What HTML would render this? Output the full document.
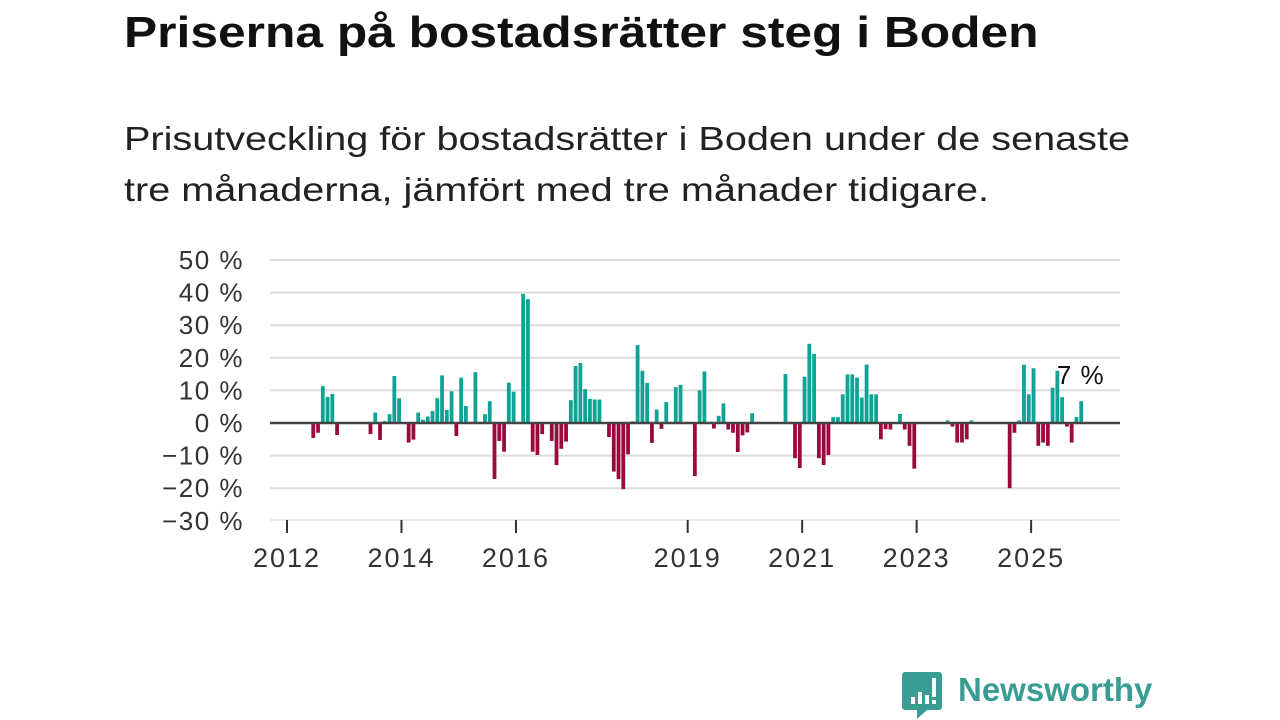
<!DOCTYPE html>
<html><head><meta charset="utf-8"><style>
body{margin:0;width:1280px;height:720px;background:#fff;overflow:hidden;font-family:"Liberation Sans",sans-serif;position:relative}
h1{position:absolute;left:124px;top:8px;margin:0;font-size:44px;font-weight:bold;color:#111;transform:scaleX(1.13);transform-origin:left top;white-space:nowrap}
p.sub{position:absolute;left:124px;top:113px;margin:0;font-size:33px;line-height:51px;color:#222;white-space:nowrap;transform:scaleX(1.2);transform-origin:left top}
svg{position:absolute;left:0;top:0}
.logo{position:absolute;left:958px;top:671px;font-size:33px;color:#3a9d94;font-weight:bold}
</style></head><body>
<h1>Priserna på bostadsrätter steg i Boden</h1>
<p class="sub">Prisutveckling för bostadsrätter i Boden under de senaste<br>tre månaderna, jämfört med tre månader tidigare.</p>
<svg id="chart" width="1280" height="720"></svg>
<svg width="1280" height="720" style="pointer-events:none">
<path d="M905 672 h34 a3 3 0 0 1 3 3 v32 a3 3 0 0 1 -3 3 h-12 l-10 9 v-9 h-12 a3 3 0 0 1 -3 -3 v-32 a3 3 0 0 1 3 -3z" fill="#3a9d94"/>
<rect x="911" y="697" width="4" height="7" fill="#fff"/><rect x="918" y="692" width="4" height="12" fill="#fff"/><rect x="925" y="695" width="4" height="9" fill="#fff"/><rect x="932" y="678" width="4" height="19" fill="#fff"/><rect x="932" y="700" width="4" height="4" fill="#fff"/>
</svg>
<div class="logo">Newsworthy</div>
<script>
const yTicks=[50,40,30,20,10,0,-10,-20,-30];
const years=[2012,2014,2016,2019,2021,2023,2025];
const startYear=2012;
const values=[0,0,0,0,0,-4.6,-3,11.3,8,8.9,-3.7,0,
0,0,0,0,0,-3.4,3.2,-5.2,0.6,2.7,14.4,7.6,
0,-6,-5.1,3.2,1,2,3.7,7.6,14.6,4,9.7,-4,
13.9,5.2,0,15.6,0,2.7,6.7,-17.2,-5.5,-8.8,12.4,9.6,
0,39.6,38,-8.8,-9.8,-3.4,0,-5.5,-12.9,-7.9,-5.7,7,
17.5,18.4,10.4,7.4,7.2,7.2,0,-4.3,-14.9,-17.2,-20.3,-9.6,
0.5,23.9,16,12.3,-6.1,4.1,-1.8,6.4,0,11,11.7,0,
0,-16.3,10,15.8,0,-1.7,2.2,6,-2,-3,-8.9,-3.8,
-2.9,3,0,0,0,0,0,0,15,0,-10.8,-13.8,
14.2,24.3,21.2,-10.8,-12.9,-9.8,1.8,1.8,8.8,14.9,14.9,13.9,
7.8,17.9,8.8,8.8,-5,-1.9,-2,0,2.8,-2,-7,-14,
0,0,0,0,0,0,0.8,-1.1,-6,-6,-5,0.8,
0,0,0,0,0,0,0,-20,-3,0.8,17.9,8.8,
16.8,-7,-6,-7,10.8,16,7.9,-1.1,-6,1.8,6.7];
const lastLabel="7 %";
const svg=document.getElementById('chart');
const NS='http://www.w3.org/2000/svg';
const y=v=>423-v*3.26;
const x=m=>287+m*4.77;
function mk(t,a){const e=document.createElementNS(NS,t);for(const k in a)e.setAttribute(k,a[k]);svg.appendChild(e);return e;}
yTicks.forEach(v=>{
 if(v!==0&&v!==-30){const l=mk('line',{x1:270,x2:1120,y1:y(v),y2:y(v),stroke:'#dcdcdc','stroke-width':2});
 
 }
 const t=mk('text',{x:244,y:y(v)+9,'text-anchor':'end','font-size':26,'letter-spacing':1.5,fill:'#333','font-family':'Liberation Sans, sans-serif'});
 t.textContent=(v<0?'\u2212'+(-v):v)+' %';
 
 
});
const ax=mk('line',{x1:270,x2:1120,y1:520,y2:520,stroke:'#e4e4e4','stroke-width':1.5});


years.forEach(yr=>{
 const px=x((yr-startYear)*12);
 const tk=mk('line',{x1:px,x2:px,y1:520,y2:533,stroke:'#333','stroke-width':2});
 
 
 const t=mk('text',{x:px,y:567,'text-anchor':'middle','font-size':27,'letter-spacing':2,fill:'#333','font-family':'Liberation Sans, sans-serif'});
 t.textContent=yr;
 
 
});
values.forEach((v,i)=>{
 if(v===0)return;
 const y0=y(0),y1=y(v);
 const r=mk('rect',{x:x(i)+0.5,width:3.8,y:Math.min(y0,y1),height:Math.abs(y1-y0),fill:v>0?'#0fa396':'#9b0a3e'});
 
 
});
const z=mk('line',{x1:270,x2:1120,y1:423,y2:423,stroke:'#444','stroke-width':2.5});


const li=values.length-1;
const lab=mk('text',{x:x(li)-22,y:y(values[li])-17,'font-size':26,'letter-spacing':1,fill:'#111','font-family':'Liberation Sans, sans-serif'});
lab.textContent=lastLabel;


</script>
</body></html>
